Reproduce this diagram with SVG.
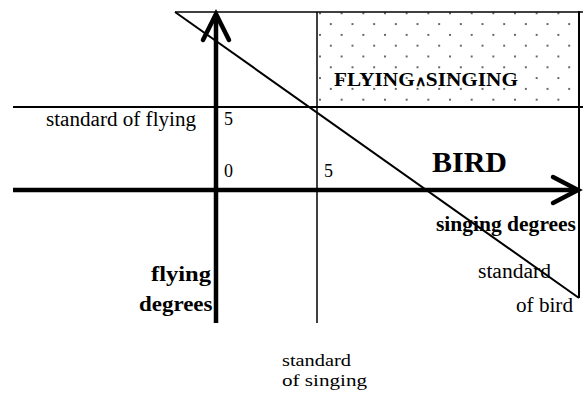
<svg xmlns="http://www.w3.org/2000/svg" width="583" height="394" viewBox="0 0 583 394">
<style>
.thin{stroke:#000;stroke-width:1.5;fill:none}
.mid{stroke:#000;stroke-width:2;fill:none}
.axis{stroke:#000;stroke-width:4.5;fill:none}
.head{stroke:#000;stroke-width:4.5;fill:none;stroke-linecap:round;stroke-linejoin:miter}
text{font-family:"Liberation Serif","Times New Roman",serif;fill:#000}
.b{font-weight:bold}
</style>
<defs>
<pattern id="dots" x="319" y="12.3" width="21.67" height="21.6" patternUnits="userSpaceOnUse">
<circle cx="1" cy="1" r="1" fill="#333"/>
<circle cx="11.83" cy="11.8" r="1" fill="#333"/>
</pattern>
</defs>
<rect width="583" height="394" fill="#fff"/>
<g id="region-flying-singing">
<rect x="317" y="12" width="262" height="95" fill="url(#dots)"/>
<text class="b" x="334" y="86" font-size="19" textLength="184" lengthAdjust="spacingAndGlyphs">FLYING<tspan font-size="14">∧</tspan>SINGING</text>
</g>
<g id="connectors">
<line class="thin" x1="175" y1="12" x2="583" y2="12"/>
<line class="mid" x1="13" y1="107" x2="583" y2="107"/>
<line class="thin" x1="317" y1="12" x2="317" y2="323"/>
<line class="mid" x1="579" y1="11" x2="579" y2="298"/>
<line class="mid" x1="175" y1="12" x2="579" y2="298"/>
<line class="axis" x1="13" y1="190" x2="577" y2="190"/>
<line class="axis" x1="216" y1="323" x2="216" y2="14"/>
<polyline class="head" points="203,40 216,14 229,40"/>
<polyline class="head" points="553,177 578,190 553,203"/>
</g>
<g id="label-bird"><text class="b" x="432" y="172" font-size="29" textLength="75" lengthAdjust="spacingAndGlyphs">BIRD</text></g>
<g id="label-standard-flying"><text x="46" y="125.5" font-size="20" textLength="150" lengthAdjust="spacingAndGlyphs">standard of flying</text></g>
<g id="tick-5-y"><text x="224" y="125" font-size="18">5</text></g>
<g id="tick-0"><text x="224" y="177" font-size="18">0</text></g>
<g id="tick-5-x"><text x="324" y="177" font-size="18">5</text></g>
<g id="label-singing-degrees"><text class="b" x="436" y="231" font-size="20" textLength="140" lengthAdjust="spacingAndGlyphs">singing degrees</text></g>
<g id="label-flying-degrees">
<text class="b" x="151" y="281" font-size="20" textLength="60" lengthAdjust="spacingAndGlyphs">flying</text>
<text class="b" x="139" y="311" font-size="20" textLength="73.5" lengthAdjust="spacingAndGlyphs">degrees</text>
</g>
<g id="label-standard-bird">
<text x="478" y="278" font-size="20" textLength="73" lengthAdjust="spacingAndGlyphs">standard</text>
<text x="516" y="312" font-size="20" textLength="57" lengthAdjust="spacingAndGlyphs">of bird</text>
</g>
<g id="label-standard-singing">
<text x="282" y="366" font-size="17.5" textLength="69" lengthAdjust="spacingAndGlyphs">standard</text>
<text x="282" y="386" font-size="17.5" textLength="85" lengthAdjust="spacingAndGlyphs">of singing</text>
</g>
</svg>
